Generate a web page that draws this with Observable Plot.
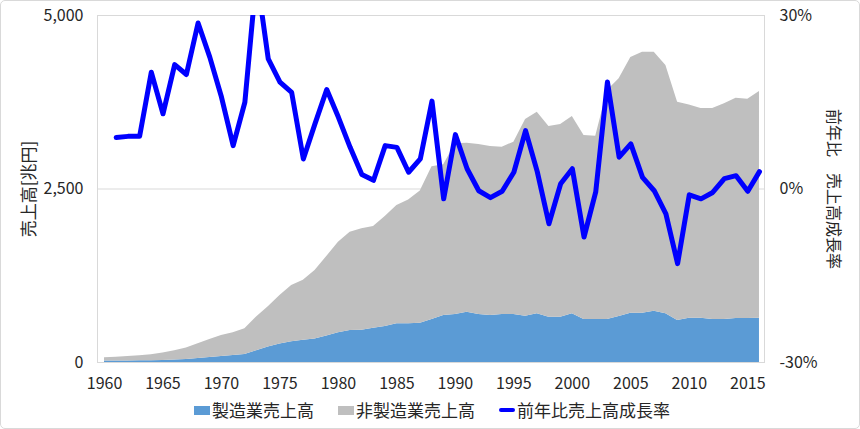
<!DOCTYPE html>
<html><head><meta charset="utf-8">
<script src="https://cdn.jsdelivr.net/npm/d3@7"></script>
<script src="https://cdn.jsdelivr.net/npm/@observablehq/plot@0.6"></script>
<style>
body{margin:0;background:#fff;font-family:"Noto Sans CJK JP","Noto Sans",sans-serif;}
#wrap{position:relative;width:860px;height:429px;overflow:hidden;background:#fff}
#border{position:absolute;left:0;top:0;width:858px;height:427px;border:1px solid #d9d9d9;border-radius:5px;pointer-events:none}
.ttl{position:absolute;font-size:16px;color:#262626;white-space:nowrap;line-height:1}
#legend{position:absolute;left:0;top:400px;width:860px;display:flex;justify-content:center;gap:24px;font-size:17px;color:#262626;line-height:20px;padding-left:4px;box-sizing:border-box}
#legend span.it{display:flex;align-items:center}
.sw{display:inline-block;width:16px;height:9px;margin-right:2px}
.ln{display:inline-block;width:16px;height:4px;background:#0000ff;border-radius:2px;margin-right:2px}
</style></head>
<body>
<div id="wrap">
  <div id="chart"></div>
  <div class="ttl" id="ltitle" style="left:27px;top:189px;font-size:17px;transform:translate(-50%,-50%) rotate(-90deg)">売上高[兆円]</div>
  <div class="ttl" id="rtitle" style="left:835px;top:189px;transform:translate(-50%,-50%) rotate(90deg)">前年比　売上高成長率</div>
  <div id="legend"></div>
  <div id="border"></div>
</div>
<script>
const years = d3.range(1960, 2017);
const manufacturing = [20,20,22,24,27,29,35,45,58,72,86,101,115,170,225,265,300,320,338,382,428,460,463,495,519,557,557,567,620,677,692,725,692,677,692,692,668,701,653,653,701,620,619,620,663,711,711,740,701,605,639,639,620,620,634,634,639];
const nonManufacturing = [47,56,64,72,86,108,135,163,211,258,302,329,370,485,580,700,810,865,988,1145,1306,1418,1463,1465,1585,1705,1783,1903,2200,2173,2459,2435,2449,2436,2410,2483,2832,2906,2748,2777,2844,2651,2642,3300,3425,3684,3760,3731,3579,3146,3071,3021,3040,3108,3175,3161,3266];
const rateYears = d3.range(1961, 2017);
const growthRate = [8.9,9.1,9.1,20.2,13.0,21.5,19.8,28.7,22.8,15.9,7.5,15.0,37,22.5,18.5,16.7,5.2,11.3,17.2,12.4,7.2,2.5,1.5,7.5,7.2,2.9,5.2,15.2,-1.7,9.4,3.5,-0.3,-1.5,-0.4,2.9,10.1,3.0,-6.0,0.9,3.5,-8.3,-0.5,18.5,5.5,7.8,2.0,-0.3,-4.3,-12.9,-1.0,-1.7,-0.6,1.8,2.3,-0.4,3.0];
const xTicks = [1960,1965,1970,1975,1980,1985,1990,1995,2000,2005,2010,2015];
const leftTicks = [0,2500,5000];
const rightTickLabels = ["-30%","0%","30%"];
const seriesNames = ["製造業売上高","非製造業売上高","前年比売上高成長率"];
const colors = ["#5b9bd5","#bfbfbf","#0000ff"];

const area = years.map((y,i)=>({year:y, m:manufacturing[i], t:manufacturing[i]+nonManufacturing[i]}));
const rate = rateYears.map((y,i)=>({year:y, r:growthRate[i]}));
const r2y = r => (r + 30) / 60 * 5000;

const chart = Plot.plot({
  width: 860, height: 395,
  marginLeft: 97, marginRight: 96, marginTop: 15, marginBottom: 33,
  style: {fontSize: "16px", fontFamily: '"Noto Sans CJK JP","Noto Sans",sans-serif', color: "#262626", background: "#fff"},
  x: {domain: [1959.4, 2016.43]},
  y: {domain: [0, 5000]},
  marks: [
    Plot.ruleY([2500, 5000], {stroke: "#d9d9d9"}),
    Plot.areaY(area, {x: "year", y1: 0, y2: "m", fill: colors[0], curve: "linear"}),
    Plot.areaY(area, {x: "year", y1: "m", y2: "t", fill: colors[1], curve: "linear"}),
    Plot.frame({stroke: "#d9d9d9"}),
    Plot.line(rate, {x: "year", y: d => r2y(d.r), stroke: colors[2], strokeWidth: 5, strokeLinejoin: "round", strokeLinecap: "round", clip: true}),
    Plot.axisX({ticks: xTicks, tickFormat: d => String(d), tickSize: 0, tickPadding: 15, label: null}),
    Plot.axisY({anchor: "left", ticks: leftTicks, tickFormat: d3.format(","), tickSize: 0, tickPadding: 14, label: null}),
    Plot.axisY({anchor: "right", ticks: leftTicks, tickFormat: d => rightTickLabels[leftTicks.indexOf(d)], tickSize: 0, tickPadding: 15, label: null})
  ]
});
document.getElementById("chart").appendChild(chart);

const leg = document.getElementById("legend");
seriesNames.forEach((n,i)=>{
  const s = document.createElement("span"); s.className = "it";
  const sw = document.createElement("span");
  if (i < 2) { sw.className = "sw"; sw.style.background = colors[i]; } else { sw.className = "ln"; }
  s.appendChild(sw);
  s.appendChild(document.createTextNode(n));
  leg.appendChild(s);
});
</script>
</body></html>
